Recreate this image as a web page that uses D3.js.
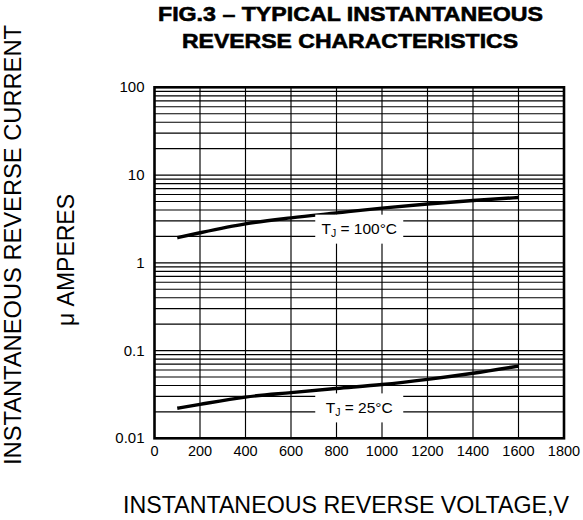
<!DOCTYPE html>
<html>
<head>
<meta charset="utf-8">
<script src="https://cdn.jsdelivr.net/npm/d3@7"></script>
<style>
  html, body { margin: 0; padding: 0; background: #fff; }
  svg { display: block; }
  text { font-family: "Liberation Sans", Arial, Helvetica, sans-serif; fill: #000; }
</style>
</head>
<body>
<svg id="chart" width="583" height="520"></svg>
<script>
// ---- data ----
const voltages = [100, 200, 400, 600, 800, 1000, 1200, 1400, 1600];
const current100C = [1.93, 2.2, 2.78, 3.25, 3.7, 4.2, 4.68, 5.12, 5.55];
const current25C = [0.022, 0.0244, 0.0295, 0.0332, 0.037, 0.041, 0.047, 0.0552, 0.0665];
const xTicks = [0, 200, 400, 600, 800, 1000, 1200, 1400, 1600, 1800];
const yTicks = [0.01, 0.1, 1, 10, 100];
const yTickLabels = ["0.01", "0.1", "1", "10", "100"];
const seriesLabels = [
  { main: "T", sub: "J", rest: " = 100°C", v: 900, i: 2.45 },
  { main: "T", sub: "J", rest: " = 25°C", v: 900, i: 0.0225 }
];
const titleLines = ["FIG.3 – TYPICAL INSTANTANEOUS", "REVERSE CHARACTERISTICS"];
const xTitle = "INSTANTANEOUS REVERSE VOLTAGE,V";
const yTitle1 = "INSTANTANEOUS REVERSE CURRENT";
const yTitle2 = "μ AMPERES";

// ---- layout ----
const L = 154.5, R = 564, T = 87.3, B = 438.3;
const svg = d3.select("#chart");
const x = d3.scaleLinear().domain([0, 1800]).range([L, R]);
const y = d3.scaleLog().domain([0.01, 100]).range([B, T]);

// grid
const grid = svg.append("g").attr("stroke", "#000").attr("stroke-width", 1.15);
xTicks.filter(v => v > 0 && v < 1800).forEach(v => {
  grid.append("line").attr("x1", x(v)).attr("x2", x(v)).attr("y1", T).attr("y2", B);
});
const minor = [];
[0.01, 0.1, 1, 10].forEach(d => {
  for (let k = 1; k <= 9; k++) minor.push(d * k);
});
minor.filter(v => v > 0.0100001).forEach(v => {
  grid.append("line").attr("x1", L).attr("x2", R).attr("y1", y(v)).attr("y2", y(v));
});

// curves
const line = d3.line().x(d => x(d[0])).y(d => y(d[1])).curve(d3.curveMonotoneX);
[current100C, current25C].forEach(series => {
  svg.append("path")
    .datum(voltages.map((v, i) => [v, series[i]]))
    .attr("d", line)
    .attr("fill", "none")
    .attr("stroke", "#000")
    .attr("stroke-width", 3.4)
    .attr("stroke-linecap", "butt");
});

// series labels with white boxes
seriesLabels.forEach(s => {
  const cx = x(s.v), cy = y(s.i);
  svg.append("rect").attr("x", cx - 44).attr("y", cy - 14).attr("width", 88).attr("height", 29).attr("fill", "#fff");
  const t = svg.append("text").attr("x", cx).attr("y", cy + 5.5).attr("text-anchor", "middle").attr("font-size", 15.5);
  t.append("tspan").text(s.main);
  t.append("tspan").attr("font-size", 10.5).attr("dy", 3).text(s.sub);
  t.append("tspan").attr("dy", -3).text(s.rest);
});

// frame
svg.append("rect").attr("x", L).attr("y", T).attr("width", R - L).attr("height", B - T)
  .attr("fill", "none").attr("stroke", "#000").attr("stroke-width", 2.6);

// tick labels
svg.append("g").selectAll("text").data(xTicks).join("text")
  .attr("x", d => x(d)).attr("y", 456).attr("text-anchor", "middle").attr("font-size", 14.5)
  .text(d => d);
svg.append("g").selectAll("text").data(yTicks).join("text")
  .attr("x", 144.5).attr("y", d => y(d) + 5).attr("text-anchor", "end").attr("font-size", 15)
  .text((d, i) => yTickLabels[i]);

// titles
svg.append("text").attr("x", 350.5).attr("y", 20.7).attr("text-anchor", "middle")
  .attr("font-size", 20.5).attr("font-weight", "bold").attr("stroke", "#000").attr("stroke-width", 0.6)
  .attr("textLength", 385).attr("lengthAdjust", "spacingAndGlyphs").text(titleLines[0]);
svg.append("text").attr("x", 350).attr("y", 48.3).attr("text-anchor", "middle")
  .attr("font-size", 20.5).attr("font-weight", "bold").attr("stroke", "#000").attr("stroke-width", 0.6)
  .attr("textLength", 336).attr("lengthAdjust", "spacingAndGlyphs").text(titleLines[1]);

svg.append("text").attr("x", 346).attr("y", 513).attr("text-anchor", "middle")
  .attr("font-size", 23).attr("textLength", 446).attr("lengthAdjust", "spacingAndGlyphs").text(xTitle);

svg.append("text").attr("transform", "translate(20.7,245) rotate(-90)").attr("text-anchor", "middle")
  .attr("font-size", 23).attr("textLength", 440).attr("lengthAdjust", "spacingAndGlyphs").text(yTitle1);
svg.append("text").attr("transform", "translate(74,260) rotate(-90)").attr("text-anchor", "middle")
  .attr("font-size", 23).text(yTitle2);
</script>
</body>
</html>
